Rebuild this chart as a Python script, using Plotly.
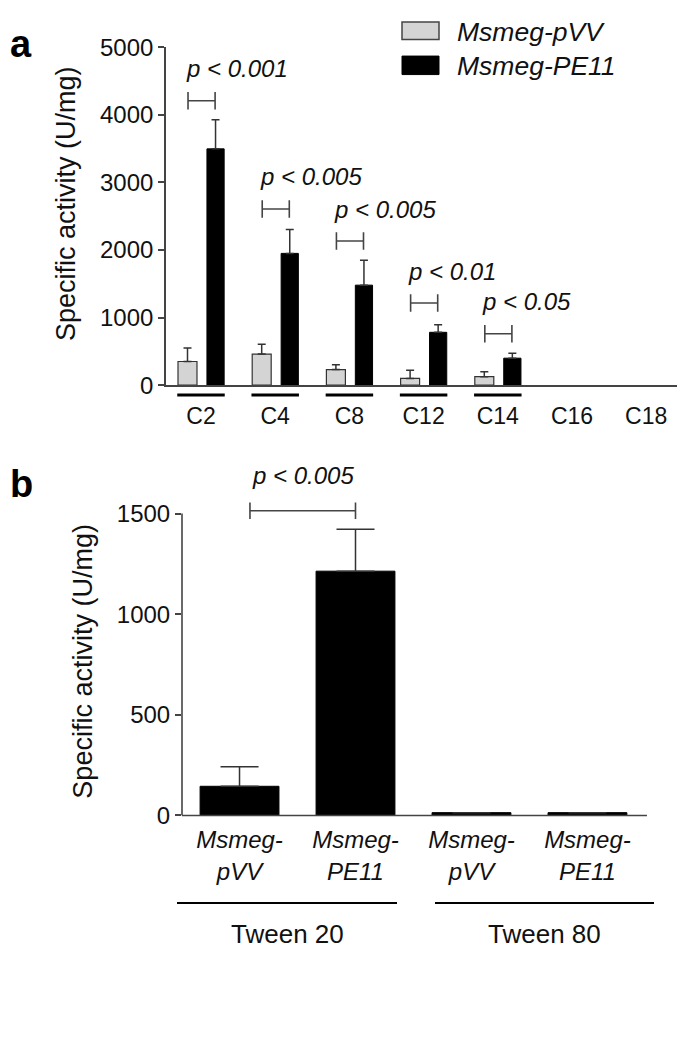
import plotly.graph_objects as go

# ---------------- data ----------------
# Panel a
cats_a = ["C2", "C4", "C8", "C12", "C14", "C16", "C18"]
pvv_vals = [350, 460, 230, 100, 125, 0, 0]
pvv_err = [200, 145, 70, 120, 72, 0, 0]
pe11_vals = [3497, 1950, 1480, 782, 399, 0, 0]
pe11_err = [432, 355, 370, 111, 72, 0, 0]
underlined = [True, True, True, True, True, False, False]
sig_a_labels = ["p < 0.001", "p < 0.005", "p < 0.005", "p < 0.01", "p < 0.05"]
sig_a_cats = [0, 1, 2, 3, 4]
sig_a_y = [4210, 2608, 2133, 1215, 760]

# Panel b
labels_b = ["Msmeg-<br>pVV", "Msmeg-<br>PE11", "Msmeg-<br>pVV", "Msmeg-<br>PE11"]
vals_b = [145, 1214, 14, 14]
err_b = [97, 208, 0, 0]
groups_b = ["Tween 20", "Tween 80"]
sig_b_label = "p < 0.005"
sig_b_y = 1514

# ---------------- layout constants ----------------
FONT = "Liberation Sans, Arial, Helvetica, sans-serif"
AX = "#444444"
TXT = "#111111"
WF, HF = 669, 1022      # figure size (page body margin of 8px brings the page to 685x1038)
OFF = 8

def px_x(p):
    return (p - OFF) / WF

def px_y(p):
    return 1 - (p - OFF) / HF

fig = go.Figure()

def shown(vals, errs):
    idx = [i for i, v in enumerate(vals) if v > 0]
    return idx, [vals[i] for i in idx], [errs[i] for i in idx]

xi, yv_, ev_ = shown(pvv_vals, pvv_err)
fig.add_trace(go.Bar(
    x=xi, y=yv_, offset=-0.31, width=0.256,
    marker=dict(color="#d4d4d4", line=dict(color="#333333", width=1.2)),
    error_y=dict(type="data", symmetric=False, array=ev_,
                 arrayminus=[0] * len(ev_), color="#333333",
                 thickness=1.5, width=4),
    name="Msmeg-pVV", showlegend=False, xaxis="x", yaxis="y"))
xi, yv_, ev_ = shown(pe11_vals, pe11_err)
fig.add_trace(go.Bar(
    x=xi, y=yv_, offset=0.08, width=0.232,
    marker=dict(color="#000000", line=dict(color="#000000", width=1)),
    error_y=dict(type="data", symmetric=False, array=ev_,
                 arrayminus=[0] * len(ev_), color="#333333",
                 thickness=1.5, width=4),
    name="Msmeg-PE11", showlegend=False, xaxis="x", yaxis="y"))

xa = list(range(len(cats_a)))
xb = list(range(len(labels_b)))
fig.add_trace(go.Bar(
    x=xb, y=vals_b, width=0.68,
    marker=dict(color="#000000", line=dict(color="#000000", width=1)),
    error_y=dict(type="data", symmetric=False, array=err_b,
                 arrayminus=[0] * len(err_b), color="#333333",
                 thickness=1.5, width=19),
    showlegend=False, xaxis="x2", yaxis="y2"))

shapes = []
annotations = []

# significance brackets panel a
gray_c, black_c = -0.175, 0.19
cap_a = 130
for lab, ci, yv in zip(sig_a_labels, sig_a_cats, sig_a_y):
    x0, x1 = ci + gray_c, ci + black_c
    shapes.append(dict(type="line", xref="x", yref="y", x0=x0, x1=x1, y0=yv, y1=yv,
                       line=dict(color=AX, width=1.6)))
    for xx in (x0, x1):
        shapes.append(dict(type="line", xref="x", yref="y", x0=xx, x1=xx,
                           y0=yv - cap_a, y1=yv + cap_a, line=dict(color=AX, width=1.6)))
    annotations.append(dict(text="<i>%s</i>" % lab, x=ci - 0.235, y=yv, xref="x", yref="y",
                            xanchor="left", yanchor="middle", yshift=32, showarrow=False,
                            font=dict(family=FONT, size=24, color=TXT)))

# underlines below categories
for i, u in enumerate(underlined):
    if u:
        shapes.append(dict(type="line", xref="x", yref="paper", x0=i - 0.32, x1=i + 0.32,
                           y0=px_y(391), y1=px_y(391), line=dict(color="#000000", width=3)))

# legend (custom)
shapes.append(dict(type="rect", xref="paper", yref="paper", x0=px_x(402), x1=px_x(439),
                   y0=px_y(26), y1=px_y(8), fillcolor="#d4d4d4",
                   line=dict(color="#444444", width=1.5)))
shapes.append(dict(type="rect", xref="paper", yref="paper", x0=px_x(402), x1=px_x(439),
                   y0=px_y(62), y1=px_y(43), fillcolor="#000000",
                   line=dict(color="#000000", width=1)))
annotations.append(dict(text="<i>Msmeg-pVV</i>", x=px_x(455), y=px_y(18), xref="paper", yref="paper",
                        xanchor="left", yanchor="middle", showarrow=False,
                        font=dict(family=FONT, size=26.5, color=TXT)))
annotations.append(dict(text="<i>Msmeg-PE11</i>", x=px_x(455), y=px_y(53), xref="paper", yref="paper",
                        xanchor="left", yanchor="middle", showarrow=False,
                        font=dict(family=FONT, size=26.5, color=TXT)))

# panel b bracket
bx0, bx1 = 0.09, 1.0
cap_b = 41
shapes.append(dict(type="line", xref="x2", yref="y2", x0=bx0, x1=bx1, y0=sig_b_y, y1=sig_b_y,
                   line=dict(color=AX, width=1.6)))
for xx in (bx0, bx1):
    shapes.append(dict(type="line", xref="x2", yref="y2", x0=xx, x1=xx,
                       y0=sig_b_y - cap_b, y1=sig_b_y + cap_b, line=dict(color=AX, width=1.6)))
annotations.append(dict(text="<i>%s</i>" % sig_b_label, x=(bx0 + bx1) / 2, y=sig_b_y,
                        xref="x2", yref="y2", xanchor="center", yanchor="middle", yshift=35,
                        showarrow=False, font=dict(family=FONT, size=24, color=TXT)))

# panel b axis lines (y axis stops at 1500)
shapes.append(dict(type="line", xref="x2 domain", yref="y2", x0=0, x1=0, y0=0, y1=1500,
                   line=dict(color=AX, width=1.6)))
shapes.append(dict(type="line", xref="x2", yref="y2 domain", x0=-0.496, x1=3.513, y0=0, y1=0,
                   line=dict(color=AX, width=1.6)))

# group lines panel b
group_px = [(177, 397), (435, 654)]
for g, (g0, g1) in zip(groups_b, group_px):
    shapes.append(dict(type="line", xref="paper", yref="paper", x0=px_x(g0), x1=px_x(g1),
                       y0=px_y(913), y1=px_y(913), line=dict(color="#000000", width=2)))
    annotations.append(dict(text=g, x=px_x((g0 + g1) / 2), y=px_y(945), xref="paper", yref="paper",
                            xanchor="center", yanchor="middle", showarrow=False,
                            font=dict(family=FONT, size=26, color=TXT)))

# axis titles & panel letters
annotations.append(dict(text="Specific activity (U/mg)", x=px_x(66), y=px_y(195), xref="paper",
                        yref="paper", textangle=-90, showarrow=False, xanchor="center",
                        yanchor="middle", font=dict(family=FONT, size=27, color=TXT)))
annotations.append(dict(text="Specific activity (U/mg)", x=px_x(83), y=px_y(665), xref="paper",
                        yref="paper", textangle=-90, showarrow=False, xanchor="center",
                        yanchor="middle", font=dict(family=FONT, size=27, color=TXT)))
annotations.append(dict(text="<b>a</b>", x=0, y=px_y(31), xref="paper", yref="paper",
                        showarrow=False, xanchor="left", yanchor="middle",
                        font=dict(family=FONT, size=38, color="#000000")))
annotations.append(dict(text="<b>b</b>", x=0, y=px_y(483), xref="paper", yref="paper",
                        showarrow=False, xanchor="left", yanchor="middle",
                        font=dict(family=FONT, size=38, color="#000000")))

tickfont = dict(family=FONT, size=24, color=TXT)

fig.update_layout(
    width=WF, height=HF,
    margin=dict(l=0, r=0, t=0, b=0),
    paper_bgcolor="white", plot_bgcolor="white",
    barmode="overlay",
    shapes=shapes, annotations=annotations,
    xaxis=dict(domain=[px_x(166), 1.0], range=[-0.4717, 6.415], tickvals=xa, ticktext=cats_a,
               showline=True, linecolor=AX, linewidth=1.6, ticks="", showgrid=False,
               zeroline=False, tickfont=dict(family=FONT, size=23, color=TXT),
               ticklabelstandoff=9, anchor="y"),
    yaxis=dict(domain=[px_y(381), px_y(34)], range=[0, 5000], tickvals=[0, 1000, 2000, 3000, 4000, 5000],
               showline=True, linecolor=AX, linewidth=1.6, ticks="outside", ticklen=6,
               tickcolor=AX, tickwidth=1.5, showgrid=False, zeroline=False, tickfont=tickfont,
               anchor="x"),
    xaxis2=dict(domain=[px_x(182), px_x(656)], range=[-0.496, 3.591], tickvals=xb,
                ticktext=["<i>%s</i>" % t for t in labels_b],
                showline=False, ticks="", showgrid=False, zeroline=False,
                tickfont=dict(family=FONT, size=24, color=TXT), ticklabelstandoff=8,
                anchor="y2"),
    yaxis2=dict(domain=[px_y(823), px_y(823 - 1600 * 0.2067)], range=[0, 1600],
                tickvals=[0, 500, 1000, 1500], showline=False, ticks="outside", ticklen=6,
                tickcolor=AX, tickwidth=1.5, showgrid=False, zeroline=False, tickfont=tickfont,
                anchor="x2"),
)

fig.write_html("out.html")
